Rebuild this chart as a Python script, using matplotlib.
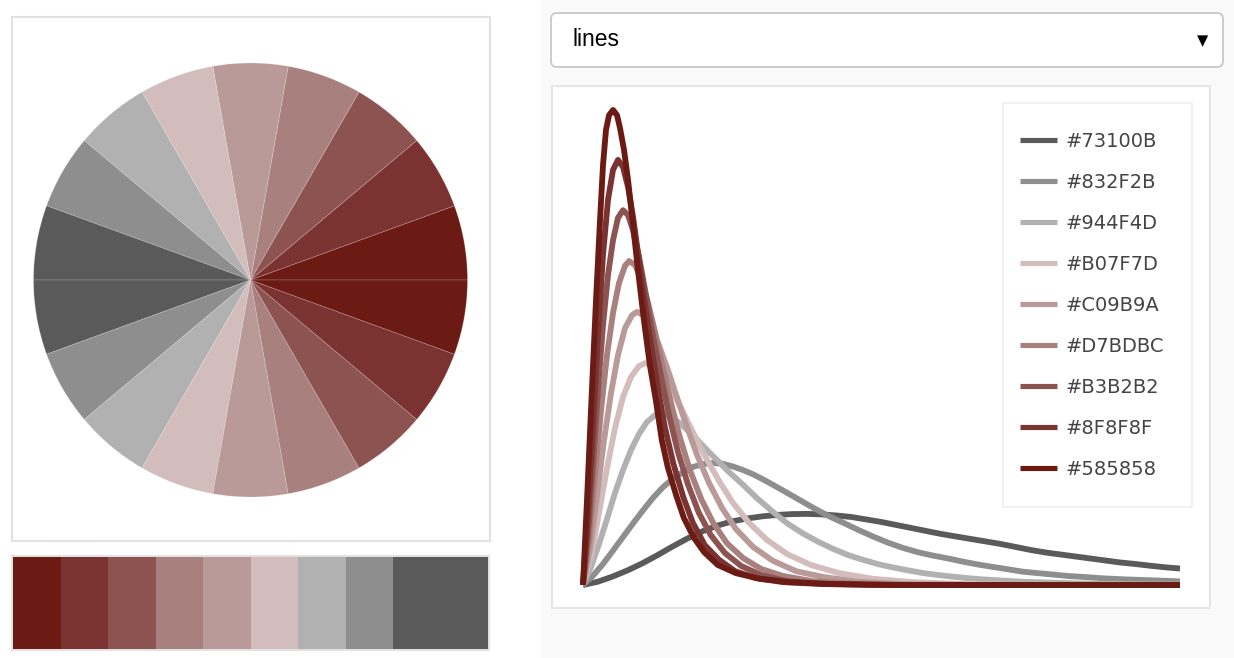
import matplotlib
matplotlib.use('Agg')
import matplotlib.pyplot as plt
from matplotlib.patches import Rectangle, FancyBboxPatch
import numpy as np

W, H = 1234, 658

# palette, dark red -> dark gray
palette = ['#6B1A14', '#7A3330', '#8C5350', '#A8807D', '#B99A98',
           '#D3BCBC', '#B1B1B1', '#8E8E8E', '#5A5A5A']

pie_values = [1] * 18
pie_colors = palette + palette[::-1]
strip_colors = palette + palette[-1:]

dropdown_text = 'lines'

# line series, drawn in this order (legend order)
series_labels = ['#73100B', '#832F2B', '#944F4D', '#B07F7D', '#C09B9A',
                 '#D7BDBC', '#B3B2B2', '#8F8F8F', '#585858']
series_colors = palette[::-1]

x_a = [0, 2.5, 5, 7.5, 10, 12.5, 15, 17.5, 20, 22.5, 25, 27.5, 30, 32.5,
       35, 37.5, 40, 42.5, 45, 47.5, 50, 52.5, 55, 57.5, 60, 62.5, 65,
       67.5, 70, 72.5, 75, 77.5, 80, 82.5, 85, 87.5, 90, 92.5, 95, 97.5, 100]
y_a = [0, 0.7, 1.8, 3.1, 4.6, 6.3, 8.1, 9.8, 11.3, 12.5, 13.4,
       14.0, 14.45, 14.75, 14.93, 14.97, 14.86, 14.63, 14.31, 13.79, 13.26,
       12.63, 12.0, 11.37, 10.74, 10.21, 9.68, 9.16, 8.63, 8.0, 7.37, 6.84,
       6.42, 6.0, 5.58, 5.16, 4.74, 4.42, 4.06, 3.73, 3.47]

x_b = [0, 1.7, 3.4, 5.0, 6.7, 8.4, 10.1, 11.7, 13.4, 15.1, 16.8, 18.4, 20.1,
       21.8, 23.5, 25.1, 26.8, 28.5, 30.2, 31.8, 33.5, 36.0, 38.5, 41.0,
       43.6, 46.1, 48.6, 51.1, 53.6, 56.1, 58.6, 61.1, 63.7, 66.2, 68.7,
       71.2, 73.7, 76.2, 78.7, 81.2, 83.8, 87.1, 90.5, 93.8, 97.2, 100]
y_b = [0, 2.0, 4.5, 7.2, 10.1, 13.0, 15.8, 18.3, 20.6, 22.4, 23.8, 24.85,
       25.45, 25.7, 25.5, 24.95, 24.2, 23.3, 22.2, 21.1, 19.9, 18.1, 16.3,
       14.6, 13.1, 11.6, 10.2, 8.9, 7.8, 6.9, 6.2, 5.6, 4.9, 4.3, 3.8, 3.3,
       2.8, 2.5, 2.2, 1.9, 1.7, 1.4, 1.2, 1.05, 0.9, 0.75]

x_c = [0, 1.34, 2.68, 4.02, 5.36, 6.7, 8.04, 9.38, 10.7, 12.1, 13.4, 14.7,
       16.1, 17.4, 18.8, 20.1, 21.4, 22.8, 24.1, 25.5, 26.8, 29.3, 31.8,
       34.3, 36.9, 39.4, 41.9, 44.4, 46.9, 49.4, 51.9, 54.4, 57.0, 59.5,
       62.0, 64.5, 67.0, 70.4, 73.7, 77.9, 82.9, 88.8, 94.6, 100]
y_c = [0, 3.8, 8.6, 13.9, 19.4, 24.2, 28.4, 31.8, 34.3, 35.8, 36.0, 35.4,
       34.2, 32.7, 31.0, 29.3, 27.6, 25.9, 24.2, 22.6, 21.1, 18.1, 15.4,
       12.9, 10.8, 9.1, 7.6, 6.3, 5.3, 4.4, 3.7, 3.1, 2.5, 2.1, 1.75, 1.43,
       1.18, 0.91, 0.69, 0.51, 0.34, 0.21, 0.13, 0.08]

x_d = [0, 1.34, 2.68, 4.02, 5.36, 6.7, 8.04, 9.38, 10.4, 11.7, 13.1, 14.7,
       16.4, 18.4, 20.4, 22.8, 25.1, 27.8, 30.8, 34.2, 38.2, 42.9, 48.6,
       55.3, 63.7, 75.4, 100]
y_d = [0, 5.9, 15.2, 24.6, 33.1, 39.6, 43.8, 46.1, 46.7, 46.1, 44.4, 41.3,
       37.3, 32.2, 27.2, 21.9, 17.3, 13.1, 9.5, 6.5, 4.2, 2.5, 1.3,
       0.6, 0.2, 0, 0]

x_e = [0, 1.17, 2.35, 3.52, 4.69, 5.86, 7.04, 8.21, 9.05, 10.1, 11.2, 12.6,
       14.1, 15.6, 17.3, 19.1, 21.1, 23.3, 25.6, 28.5, 31.8, 35.7, 40.2,
       46.1, 53.6, 67.0, 100]
y_e = [0, 7.4, 18.9, 30.5, 40.4, 48.4, 54.1, 56.8, 57.5, 56.8, 54.7, 50.9,
       45.7, 40.0, 33.7, 27.4, 21.5, 16.2, 11.8, 8.0, 5.1, 2.9, 1.7,
       0.7, 0.2, 0, 0]

x_f = [0, 1.01, 2.01, 3.02, 4.02, 5.03, 6.03, 7.04, 7.71, 8.71, 9.72, 10.9,
       12.1, 13.4, 14.7, 16.2, 17.9, 19.8, 21.8, 24.1, 26.8, 29.8, 33.5,
       38.5, 45.2, 55.3, 100]
y_f = [0, 9.5, 23.2, 36.8, 48.4, 57.3, 63.6, 67.2, 68.2, 67.4, 64.4, 59.4,
       53.1, 45.7, 38.5, 31.2, 24.2, 18.1, 13.1, 8.8, 5.7, 3.4, 1.9,
       0.8, 0.3, 0, 0]

x_g = [0, 0.84, 1.68, 2.51, 3.35, 4.19, 5.03, 5.86, 6.7, 7.54, 8.38, 9.38,
       10.4, 11.7, 13.1, 14.4, 15.9, 17.6, 19.4, 21.4, 23.8, 26.5, 29.8,
       34.3, 40.2, 50.3, 100]
y_g = [0, 10.5, 25.3, 41.1, 54.7, 65.3, 72.6, 77.3, 78.9, 77.9, 74.7, 69.1,
       62.1, 52.6, 43.8, 35.8, 28.0, 21.1, 15.2, 10.5, 6.7, 4.0, 2.1,
       0.8, 0.3, 0, 0]

x_h = [0, 0.84, 1.68, 2.51, 3.35, 4.19, 5.03, 5.86, 6.7, 7.54, 8.38, 9.38,
       10.4, 11.4, 12.6, 13.7, 15.1, 16.8, 18.4, 20.4, 22.8, 25.5, 28.8,
       33.5, 40.2, 50.3, 100]
y_h = [0, 14.7, 33.7, 52.6, 69.5, 81.1, 87.4, 89.5, 88.0, 83.8, 77.5, 68.4,
       58.9, 50.5, 41.1, 33.3, 25.7, 18.5, 13.1, 8.4, 5.3, 2.9, 1.5,
       0.6, 0.2, 0, 0]

x_i = [0, 0.67, 1.34, 2.18, 2.85, 3.35, 3.85, 4.36, 5.03, 5.7, 6.2, 6.87,
       7.54, 8.38, 9.21, 10.2, 11.2, 12.2, 13.2, 14.2, 15.6, 16.9, 18.6,
       20.3, 22.6, 25.6, 29.6, 34.7, 41.4, 53.1, 100]
y_i = [0, 17.9, 36.8, 60.0, 76.8, 88.4, 95.8, 98.9, 100, 98.9, 96.2, 91.6,
       85.3, 75.8, 66.3, 55.8, 46.3, 38.9, 30.5, 24.8, 18.9, 14.1, 9.9,
       6.9, 4.2, 2.5, 1.3, 0.6, 0.2, 0, 0]

series_x = [x_a, x_b, x_c, x_d, x_e, x_f, x_g, x_h, x_i]
series_y = [y_a, y_b, y_c, y_d, y_e, y_f, y_g, y_h, y_i]


def frac(x0, y0, w, h):
    # pixel box (top-left origin) -> figure fraction
    return [x0 / W, 1 - (y0 + h) / H, w / W, h / H]


def main():
    fig = plt.figure(figsize=(W / 100, H / 100), dpi=100)
    fig.patch.set_facecolor('white')

    # page furniture: panels, dropdown
    bg = fig.add_axes([0, 0, 1, 1])
    bg.set_xlim(0, W)
    bg.set_ylim(H, 0)
    bg.axis('off')
    bg.add_patch(Rectangle((541, 0), W - 541, H, fc='#fafafa', ec='none'))
    bg.add_patch(Rectangle((12, 17), 478, 524, fc='white', ec='#e2e2e2', lw=1.5))
    bg.add_patch(Rectangle((12, 556), 477, 94, fc='white', ec='#e2e2e2', lw=1.5))
    bg.add_patch(FancyBboxPatch((551, 13), 672, 54,
                                boxstyle='round,pad=0,rounding_size=6',
                                fc='white', ec='#c8c8c8', lw=1.3))
    bg.text(573, 40, dropdown_text, fontsize=16.5, color='black',
            family='Liberation Sans', va='center', ha='left')
    bg.text(1203, 41, '\u25bc', fontsize=10.5, color='black',
            family='DejaVu Sans', va='center', ha='center')
    bg.add_patch(Rectangle((552, 86), 658, 522, fc='white', ec='#e6e6e6', lw=1.5))
    bg.add_patch(Rectangle((1003, 103), 189, 404, fc='white', ec='#efefef', lw=1.2))

    # pie
    ax_pie = fig.add_axes(frac(33.5, 63, 434, 434))
    ax_pie.pie(pie_values, colors=pie_colors, startangle=0, counterclock=True,
               radius=1, wedgeprops=dict(edgecolor=(1, 1, 1, 0.2), linewidth=0.6))
    ax_pie.set_xlim(-1, 1)
    ax_pie.set_ylim(-1, 1)
    ax_pie.patch.set_alpha(0)

    # colour strip
    ax_strip = fig.add_axes(frac(13, 557, 475, 92))
    ax_strip.bar(np.arange(len(strip_colors)), [1] * len(strip_colors), width=1,
                 color=strip_colors, linewidth=0)
    ax_strip.set_xlim(-0.5, len(strip_colors) - 0.5)
    ax_strip.set_ylim(0, 1)
    ax_strip.axis('off')

    # lines
    ax = fig.add_axes(frac(583, 110, 597, 475))
    for xs, ys, c, lab in zip(series_x, series_y, series_colors, series_labels):
        ax.plot(xs, ys, color=c, lw=4.2, label=lab, clip_on=False,
                solid_capstyle='butt', solid_joinstyle='round')
    ax.set_xlim(0, 100)
    ax.set_ylim(0, 100)
    ax.axis('off')

    leg = ax.legend(loc='upper left', bbox_to_anchor=(1020 / W, 1 - 132 / H),
                    bbox_transform=fig.transFigure, frameon=False,
                    prop=dict(family='DejaVu Sans', size=14),
                    labelcolor='#444444', handlelength=1.9, handletextpad=0.42,
                    labelspacing=1.13, borderpad=0, borderaxespad=0)
    for h in leg.get_lines():
        h.set_linewidth(3.7)

    fig.savefig('out.png', dpi=100)


if __name__ == '__main__':
    main()
